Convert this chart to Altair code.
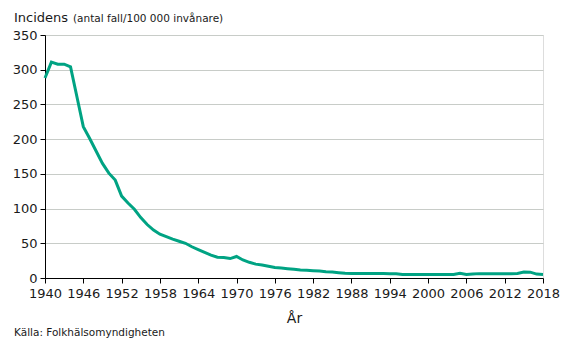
import altair as alt
import pandas as pd

years = list(range(1940, 2019))
incidens = [
    288, 311, 308, 308, 304, 261, 218, 201, 183, 165,
    151, 141, 118, 108, 99, 87, 77, 69, 63, 59.5,
    56, 53, 50, 45, 41, 37, 33, 30, 29.5, 28,
    31, 26, 22.6, 20, 18.7, 17, 15, 14.4, 13.4, 12.5,
    11.5, 11, 10.5, 10, 9, 8.6, 7.7, 6.8, 6.6, 6.5,
    6.5, 6.5, 6.4, 6.4, 6.3, 6.2, 5.0, 5.0, 5.0, 5.0,
    5.0, 5.0, 5.0, 5.0, 5.0, 6.7, 5.0, 5.8, 6.3, 6.3,
    6.3, 6.3, 6.3, 6.3, 6.5, 8.5, 8.4, 5.6, 5.2,
]
tick_years = list(range(1940, 2019, 6))

df = pd.DataFrame({"year": years, "value": incidens})
one = pd.DataFrame({"k": [0]})

FONT = "DejaVu Sans"
TXT = "#1a1a1a"

line = alt.Chart(df).mark_line(color="#00A383", strokeWidth=3).encode(
    x=alt.X(
        "year:Q",
        scale=alt.Scale(domain=[1940, 2018], nice=False, zero=False),
        axis=alt.Axis(
            values=tick_years, format="d", title="År", grid=False,
            labelFont=FONT, labelFontSize=13, labelColor=TXT,
            titleFont=FONT, titleFontSize=14, titleFontWeight="normal", titleColor=TXT,
            titlePadding=11, labelPadding=4,
            domainColor="#000000", tickColor="#000000", tickSize=5,
            labelFlush=False, labelOverlap=False,
        ),
    ),
    y=alt.Y(
        "value:Q",
        scale=alt.Scale(domain=[0, 350], nice=False),
        axis=alt.Axis(
            values=list(range(0, 351, 50)), title=None,
            labelFont=FONT, labelFontSize=13, labelColor=TXT, labelPadding=3,
            domainColor="#000000", tickColor="#000000", tickSize=5,
            gridColor="#C8CCC8", gridWidth=1.2,
        ),
    ),
)

title1 = alt.Chart(one).mark_text(
    text="Incidens", align="left", baseline="alphabetic",
    font=FONT, fontSize=13, color=TXT,
).encode(x=alt.value(-31), y=alt.value(-13))

title2 = alt.Chart(one).mark_text(
    text="(antal fall/100 000 invånare)", align="left", baseline="alphabetic",
    font=FONT, fontSize=10.5, color=TXT,
).encode(x=alt.value(28), y=alt.value(-13))

source = alt.Chart(one).mark_text(
    text="Källa: Folkhälsomyndigheten", align="left", baseline="alphabetic",
    font=FONT, fontSize=10.5, color=TXT,
).encode(x=alt.value(-31), y=alt.value(301))

chart = alt.layer(line, title1, title2, source).properties(
    width=498, height=243,
    autosize=alt.AutoSizeParams(type="none"),
    padding={"left": 45, "top": 35, "right": 24, "bottom": 79},
).configure_view(stroke=None).configure(background="white")

chart.save("out.html", embed_options={"renderer": "svg", "actions": False})
